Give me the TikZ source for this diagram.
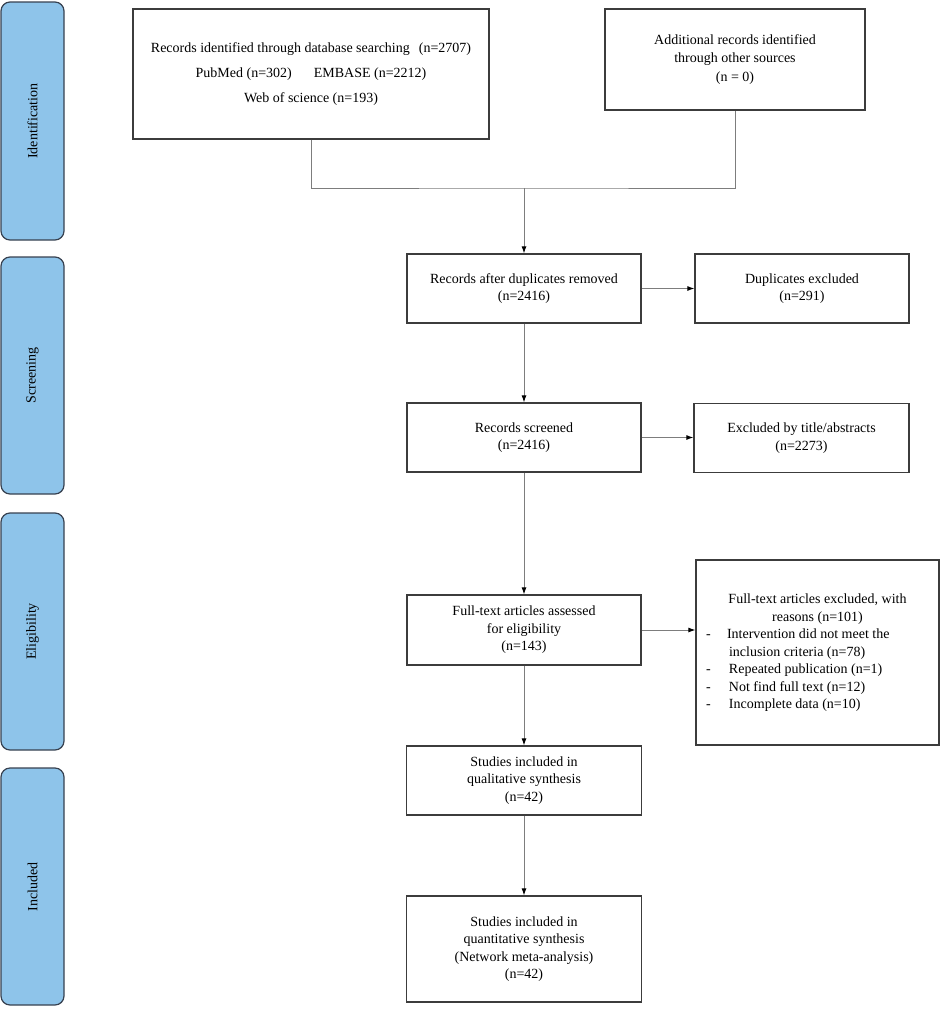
\documentclass[tikz,border=0pt]{standalone}
\usepackage{fontspec}
\setmainfont{Liberation Serif}
\usetikzlibrary{arrows.meta}
\definecolor{barblue}{RGB}{142,196,234}
\definecolor{barline}{RGB}{55,65,80}
\definecolor{boxline}{RGB}{60,60,60}
\definecolor{linkgray}{RGB}{125,125,125}

\begin{document}
\begin{tikzpicture}[x=1pt,y=-1pt, >={Latex[length=7pt,width=5pt,color=black]},
  phase/.style={draw=barline, line width=1.2pt, fill=barblue, rounded corners=9pt, rotate=90, minimum width=237pt, minimum height=63pt, inner sep=0pt, font=\fontsize{14}{17}\selectfont},
  box/.style={draw=boxline, line width=1.3pt, align=center, inner sep=0pt, font=\fontsize{14}{17.5}\selectfont},
  link/.style={draw=linkgray, line width=0.9pt}]
  \useasboundingbox (0,0) rectangle (941,1009);

  % phases
  \node[phase, minimum width=238pt] (idbar) at (32.5,121) {Identification};
  \node[phase] (scbar) at (32.5,375.5) {Screening};
  \node[phase] (elbar) at (32.5,631.5) {Eligibility};
  \node[phase] (inbar) at (32.5,886.5) {Included};

  % identification
  \node[box, minimum width=356pt, minimum height=130pt, font=\fontsize{14}{25}\selectfont] (search) at (311,74)
    {Records identified through database searching\hspace{9pt}(n=2707)\\
     PubMed (n=302)\hspace{22pt}EMBASE (n=2212)\\
     Web of science (n=193)};
  \node[box, minimum width=260pt, minimum height=101pt, font=\fontsize{14}{18.5}\selectfont] (other) at (735,59.5)
    {Additional records identified\\ through other sources\\ (n = 0)};

  % screening
  \node[box, minimum width=234pt, minimum height=69pt] (dedup) at (524,288.5) {Records after duplicates removed\\ (n=2416)};
  \node[box, minimum width=214pt, minimum height=69pt] (dupl) at (802,288.5) {Duplicates excluded\\ (n=291)};
  \node[box, minimum width=234pt, minimum height=69pt] (screen) at (524,437.5) {Records screened\\ (n=2416)};
  \node[box, minimum width=215pt, minimum height=69pt] (titleex) at (801.5,438) {Excluded by title/abstracts\\ (n=2273)};

  % eligibility
  \node[box, minimum width=234pt, minimum height=70pt] (fulltext) at (524,630) {Full-text articles assessed\\ for eligibility\\ (n=143)};
  \node[box, minimum width=243pt, minimum height=185pt] (ftex) at (817.5,652.5)
    {\begin{tabular}{@{}p{22pt}@{}p{203pt}@{}}
      \multicolumn{2}{@{}c@{}}{Full-text articles excluded, with}\\
      \multicolumn{2}{@{}c@{}}{reasons (n=101)}\\
      \hspace{1pt}- & Intervention did not meet the\\
       & \hspace{2pt}inclusion criteria (n=78)\\
      \hspace{1pt}- & \hspace{2pt}Repeated publication (n=1)\\
      \hspace{1pt}- & \hspace{2pt}Not find full text (n=12)\\
      \hspace{1pt}- & \hspace{2pt}Incomplete data (n=10)
    \end{tabular}};

  % included
  \node[box, minimum width=235pt, minimum height=69pt] (qual) at (524,780.5) {Studies included in\\ qualitative synthesis\\ (n=42)};
  \node[box, minimum width=235pt, minimum height=106pt] (quant) at (524,949) {Studies included in\\ quantitative synthesis\\ (Network meta-analysis)\\ (n=42)};

  % connectors
  \coordinate (join) at (524,188);
  \draw[link] (search.south) |- (join) -| (other.south);
  \draw[link,->] (join) -- (dedup);
  \draw[link,->] (dedup) -- (dupl);
  \draw[link,->] (dedup) -- (screen);
  \draw[link,->] (screen.east) -- (screen.east -| titleex.west);
  \draw[link,->] (screen) -- (fulltext);
  \draw[link,->] (fulltext.east) -- (fulltext.east -| ftex.west);
  \draw[link,->] (fulltext) -- (qual);
  \draw[link,->] (qual) -- (quant);
\end{tikzpicture}
\end{document}
